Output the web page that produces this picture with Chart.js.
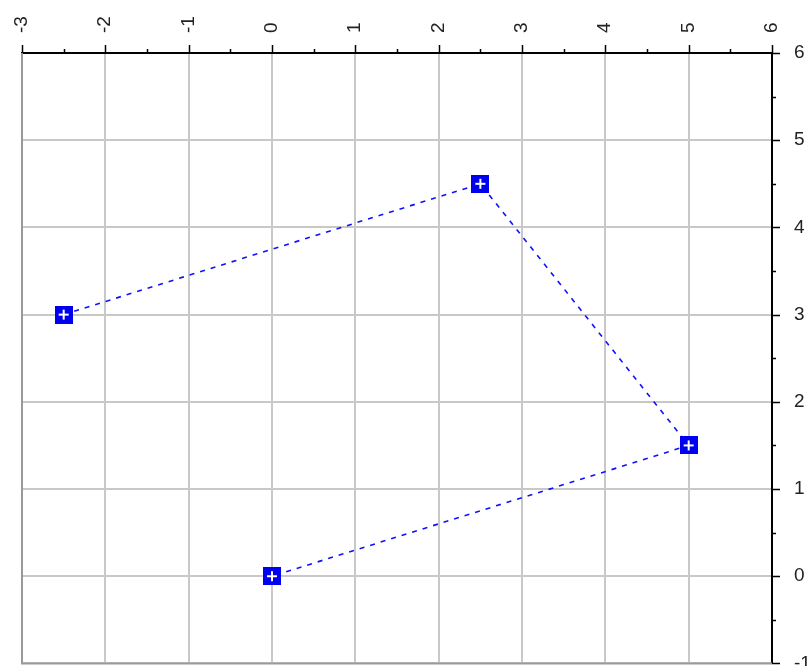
<!DOCTYPE html>
<html>
<head>
<meta charset="utf-8">
<script src="https://cdn.jsdelivr.net/npm/chart.js@4"></script>
<style>
  html, body { margin: 0; padding: 0; background: #fff; }
  #wrap { width: 809px; height: 666px; }
</style>
</head>
<body>
<div id="wrap"><canvas id="chart"></canvas></div>
<script>
// data
const xValues = [-2.5, 2.5, 5, 0];
const yValues = [3, 4.5, 1.5, 0];
const xRange = [-3, 6];
const yRange = [-1, 6];

const points = xValues.map((x, i) => ({ x, y: yValues[i] }));

// blue square with a white plus
function makeMarker() {
  const c = document.createElement('canvas');
  c.width = 18; c.height = 18;
  const g = c.getContext('2d');
  g.fillStyle = '#0000f0';
  g.fillRect(0, 0, 18, 18);
  g.fillStyle = '#fff';
  g.fillRect(8, 4, 2, 10);
  g.fillRect(4, 8, 10, 2);
  return c;
}

// minor + major tick marks and the grey left/bottom frame
const axisDecor = {
  id: 'axisDecor',
  afterDraw(chart) {
    const { ctx, chartArea: a, scales: { x, y } } = chart;
    ctx.save();
    ctx.strokeStyle = '#999';
    ctx.lineWidth = 2;
    ctx.beginPath();
    ctx.moveTo(a.left, a.top); ctx.lineTo(a.left, a.bottom); ctx.lineTo(a.right, a.bottom);
    ctx.stroke();
    ctx.strokeStyle = '#000';
    ctx.lineWidth = 1.5;
    ctx.beginPath();
    for (let v = xRange[0]; v <= xRange[1]; v += 0.5) {
      const px = Math.round(x.getPixelForValue(v)) + 0.5;
      const len = Number.isInteger(v) ? 8 : 4;
      ctx.moveTo(px, a.top); ctx.lineTo(px, a.top - len);
    }
    for (let v = yRange[0]; v <= yRange[1]; v += 0.5) {
      const py = Math.round(y.getPixelForValue(v)) + 0.5;
      const len = Number.isInteger(v) ? 8 : 4;
      ctx.moveTo(a.right, py); ctx.lineTo(a.right + len, py);
    }
    ctx.stroke();
    ctx.restore();
  }
};

// tiny lineHeight keeps single-line labels centred on their ticks and stops
// chart.js from reserving half a label of padding at the plot edges
const tickFont = { family: 'Arial, "Liberation Sans", sans-serif', size: 19, lineHeight: 0.01 };

new Chart(document.getElementById('chart'), {
  type: 'scatter',
  data: {
    datasets: [{
      data: points,
      showLine: true,
      tension: 0,
      borderColor: '#1010ff',
      borderWidth: 1.6,
      borderDash: [5, 6],
      pointStyle: makeMarker(),
      // image markers draw at their own size; a small radius keeps
      // chart.js from padding the plot area for them
      pointRadius: 1,
      pointHoverRadius: 1
    }]
  },
  options: {
    responsive: true,
    maintainAspectRatio: false,
    animation: false,
    layout: { padding: { left: 22, bottom: 2, top: 0, right: 0 } },
    plugins: { legend: { display: false }, tooltip: { enabled: false } },
    scales: {
      x: {
        type: 'linear',
        position: 'top',
        min: xRange[0], max: xRange[1],
        grid: { color: '#c8c8c8', lineWidth: 2, drawTicks: false },
        border: { display: true, color: '#000', width: 2 },
        ticks: { stepSize: 1, minRotation: 90, maxRotation: 90, padding: 20, color: '#222', font: tickFont, autoSkip: false },
        afterFit(s) { s.height = 53; s.paddingLeft = 0; s.paddingRight = 0; }
      },
      y: {
        type: 'linear',
        position: 'right',
        min: yRange[0], max: yRange[1],
        grid: { color: '#c8c8c8', lineWidth: 2, drawTicks: false },
        border: { display: true, color: '#000', width: 2 },
        ticks: { stepSize: 1, padding: 22, color: '#222', font: tickFont, autoSkip: false },
        afterFit(s) { s.width = 37; s.paddingTop = 0; s.paddingBottom = 0; }
      }
    }
  },
  plugins: [axisDecor]
});
</script>
</body>
</html>
